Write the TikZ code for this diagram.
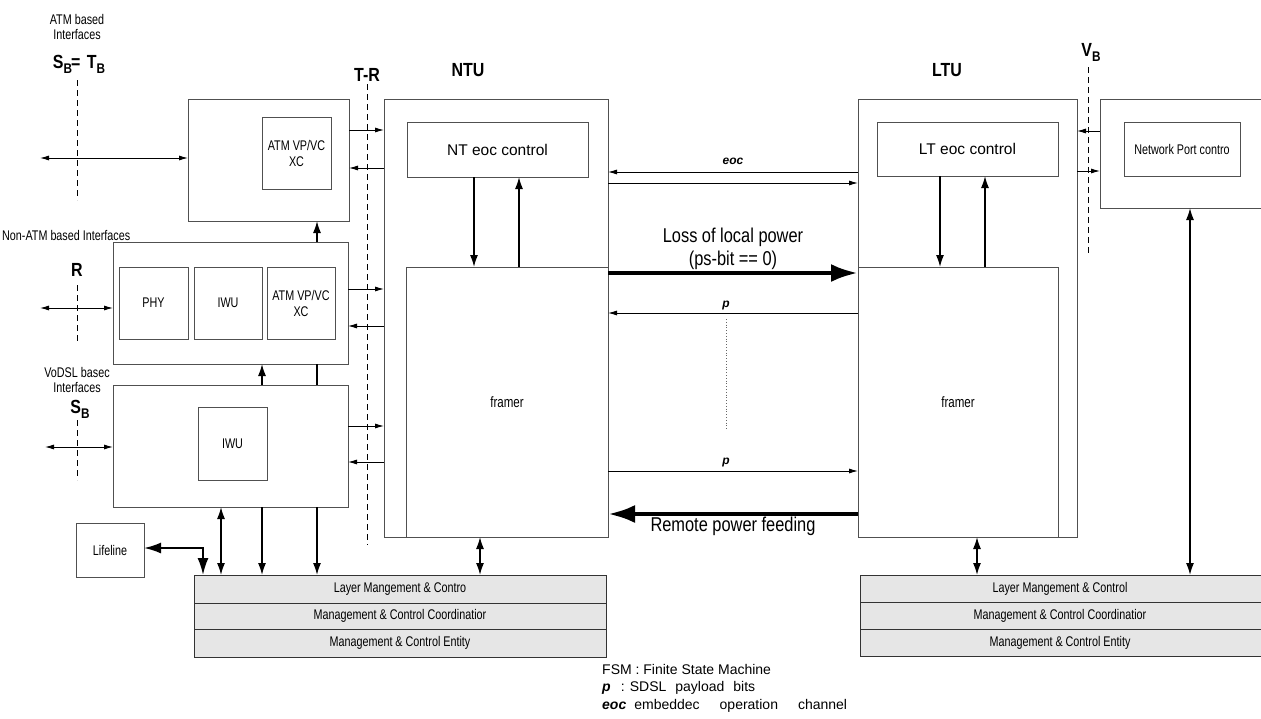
\documentclass[tikz,border=0pt]{standalone}
\usepackage{fontspec}
\setmainfont{Liberation Sans}
\newfontfamily\condfont[FakeStretch=0.77]{Liberation Sans}
\newfontfamily\condbold[FakeStretch=0.84]{Liberation Sans}
\newfontfamily\condbig[FakeStretch=0.82]{Liberation Sans}
\usepackage{xcolor}
\usetikzlibrary{arrows.meta, positioning}

\definecolor{linegray}{RGB}{80,80,80}
\definecolor{mgmtfill}{RGB}{230,230,230}
\newcommand{\lowB}{\raisebox{-5pt}{\fontsize{14}{14}\selectfont B}}

\begin{document}
\begin{tikzpicture}[x=1pt, y=-1pt]
    \tikzstyle{blk} = [rectangle, draw=linegray, line width=0.9pt, anchor=north west, inner sep=0pt, outer sep=0pt, align=center, font=\condfont\fontsize{14}{16}\selectfont]
    \tikzstyle{ctl} = [blk, font=\fontsize{15.5}{17}\selectfont]
    \tikzstyle{mgmt} = [blk, fill=mgmtfill, draw=black!80]
    \tikzstyle{txt} = [inner sep=0pt, align=center, font=\condfont\fontsize{14}{15}\selectfont]
    \tikzstyle{bigtxt} = [inner sep=0pt, align=center, font=\condbig\fontsize{20}{23}\selectfont]
    \tikzstyle{ref} = [inner sep=0pt, font=\condbold\bfseries\fontsize{19}{20}\selectfont]
    \tikzstyle{bits} = [inner sep=0pt, font=\bfseries\itshape\fontsize{12}{13}\selectfont]
    \tikzstyle{iface} = [draw=black, line width=0.8pt, dash pattern=on 6pt off 4pt]
    \tikzstyle{sig} = [->, line width=0.9pt, >={Latex[length=9pt, width=5pt]}]
    \tikzstyle{ctrl} = [->, line width=1.5pt, >={Latex[length=12pt, width=8pt]}]
    \tikzstyle{life} = [<->, line width=2pt, >={Latex[length=17pt, width=11pt]}]
    \tikzstyle{power} = [->, line width=4.5pt, >={Latex[length=27pt, width=18pt]}]

    \useasboundingbox (0,0) rectangle (1261,718);

    % Customer side interface blocks
    \node (atm) [blk, minimum width=161pt, minimum height=122pt] at (188,99) {};
    \node (atmxc) [blk, minimum width=69pt, minimum height=72pt] at (262,117) {ATM VP/VC\\XC};
    \node (nonatm) [blk, minimum width=235pt, minimum height=122pt] at (113,242) {};
    \node (phy) [blk, minimum width=69pt, minimum height=72pt] at (119,267) {PHY};
    \node (iwua) [blk, minimum width=68pt, minimum height=72pt, right=6pt of phy] {IWU};
    \node (atmxcb) [blk, minimum width=68pt, minimum height=72pt, right=5pt of iwua] {ATM VP/VC\\XC};
    \node (vodsl) [blk, minimum width=235pt, minimum height=122pt] at (113,385) {};
    \node (iwub) [blk, minimum width=69pt, minimum height=73pt] at (198,407) {IWU};
    \node (lifeline) [blk, minimum width=68pt, minimum height=54pt] at (76,523) {Lifeline};

    % Interface labels
    \node (atmlbl) [txt] at (77,27) {ATM based\\Interfaces};
    \node (sbtb) [ref] at (79,64) {S\lowB\kern-1pt= \kern2pt T\lowB};
    \node (nonatmlbl) [txt, anchor=west] at (2,235) {Non-ATM based Interfaces};
    \node (rlbl) [ref] at (77,270) {R};
    \node (vodsllbl) [txt] at (77,380) {VoDSL basec\\Interfaces};
    \node (sblbl) [ref] at (80,409) {S\lowB};
    \node (trlbl) [ref] at (367,75) {T-R};
    \node (ntulbl) [ref] at (468,70) {NTU};
    \node (ltulbl) [ref] at (947,70) {LTU};
    \node (vblbl) [ref] at (1091,52) {V\lowB};

    % Reference points
    \draw[iface] (77,80) -- (77,200);
    \draw[iface] (77,285) -- (77,343);
    \draw[iface] (77,420) -- (77,480);
    \draw[iface] (367,84) -- (367,545);
    \draw[iface] (1088,67) -- (1088,255);

    \coordinate (atmport) at (40,158);
    \coordinate (rport) at (40,308);
    \coordinate (sbport) at (45,447);
    \draw[sig, <->] (atmport) -- (atmport -| atm.west);
    \draw[sig, <->] (rport) -- (rport -| nonatm.west);
    \draw[sig, <->] (sbport) -- (sbport -| vodsl.west);

    % NTU
    \node (ntu) [blk, minimum width=224pt, minimum height=438pt] at (384,99) {};
    \node (nteoc) [ctl, minimum width=181pt, minimum height=55pt] at (407,122) {NT eoc control};
    \node (ntframer) [blk, font=\condfont\fontsize{15}{16}\selectfont, minimum width=202pt, minimum height=270pt] at (406,267) {framer};

    % LTU
    \node (ltu) [blk, minimum width=219pt, minimum height=438pt] at (858,99) {};
    \node (lteoc) [ctl, minimum width=181pt, minimum height=54pt] at (877,122) {LT eoc control};
    \node (ltframer) [blk, font=\condfont\fontsize{15}{16}\selectfont, minimum width=200pt, minimum height=270pt] at (858,267) {framer};

    % Network port
    \node (np) [blk, minimum width=190pt, minimum height=109pt] at (1100,99) {};
    \node (npc) [blk, minimum width=116pt, minimum height=54pt] at (1124,122) {Network Port contro};

    % Management stacks
    \node (lmc1) [mgmt, minimum width=412pt, minimum height=28pt] at (194,575) {Layer Mangement \& Contro};
    \node (lmc2) [mgmt, minimum width=412pt, minimum height=26pt, below=0pt of lmc1] {Management \& Control Coordinatior};
    \node (lmc3) [mgmt, minimum width=412pt, minimum height=28pt, below=0pt of lmc2] {Management \& Control Entity};
    \node (rmc1) [mgmt, minimum width=430pt, minimum height=27pt] at (860,575) {\hspace*{-30pt}Layer Mangement \& Control};
    \node (rmc2) [mgmt, minimum width=430pt, minimum height=27pt, below=0pt of rmc1] {\hspace*{-30pt}Management \& Control Coordinatior};
    \node (rmc3) [mgmt, minimum width=430pt, minimum height=27pt, below=0pt of rmc2] {\hspace*{-30pt}Management \& Control Entity};

    % Blocks to NTU
    \draw[sig] (atm.east |- 0,130) -- (ntu.west |- 0,130);
    \draw[sig, <-] (atm.east |- 0,168) -- (ntu.west |- 0,168);
    \draw[sig] (nonatm.east |- 0,289) -- (ntu.west |- 0,289);
    \draw[sig, <-] (nonatm.east |- 0,326) -- (ntu.west |- 0,326);
    \draw[sig] (vodsl.east |- 0,426) -- (ntu.west |- 0,426);
    \draw[sig, <-] (vodsl.east |- 0,462) -- (ntu.west |- 0,462);

    \draw[ctrl] (nonatm.north -| 317,0) -- (atm.south -| 317,0);
    \draw[ctrl] (vodsl.north -| 262,0) -- (nonatm.south -| 262,0);
    \draw[line width=1.5pt] (vodsl.north -| 317,0) -- (nonatm.south -| 317,0);

    % To management
    \draw[life] (lifeline.east |- 0,548) -| (lmc1.north -| 203,0);
    \draw[ctrl, <->] (vodsl.south -| 221,0) -- (lmc1.north -| 221,0);
    \draw[ctrl] (vodsl.south -| 262,0) -- (lmc1.north -| 262,0);
    \draw[ctrl] (vodsl.south -| 317,0) -- (lmc1.north -| 317,0);
    \draw[ctrl, <->] (ntframer.south -| 480,0) -- (lmc1.north -| 480,0);
    \draw[ctrl, <->] (ltframer.south -| 977,0) -- (rmc1.north -| 977,0);
    \draw[ctrl, <->] (np.south -| 1190,0) -- (rmc1.north -| 1190,0);

    % eoc control
    \draw[ctrl] (nteoc.south -| 474,0) -- (ntframer.north -| 474,0);
    \draw[ctrl, <-] (nteoc.south -| 519,0) -- (ntframer.north -| 519,0);
    \draw[ctrl] (lteoc.south -| 940,0) -- (ltframer.north -| 940,0);
    \draw[ctrl, <-] (lteoc.south -| 985,0) -- (ltframer.north -| 985,0);

    % Line side
    \draw[sig, <-] (ntu.east |- 0,172) -- node[above=7pt, bits] {eoc} (ltu.west |- 0,172);
    \draw[sig] (ntu.east |- 0,183) -- (ltu.west |- 0,183);
    \draw[power] (ntframer.east |- 0,273) -- node[above=1pt, bigtxt] {Loss of local power\\(ps-bit == 0)} (ltframer.west |- 0,273);
    \draw[sig, <-] (ntframer.east |- 0,313) -- node[above=3pt, xshift=-7pt, bits] (ptop) {p} (ltframer.west |- 0,313);
    \draw[sig] (ntframer.east |- 0,471) -- node[above=4pt, xshift=-7pt, bits] (pbot) {p} (ltframer.west |- 0,471);
    \draw[dotted, line width=0.8pt, black!60] ([yshift=-9pt]ptop.south) -- ([yshift=27pt]pbot.north);
    \draw[power, <-] (ntframer.east |- 0,514) -- node[below=1pt, bigtxt] {Remote power feeding} (ltframer.west |- 0,514);

    % Network port
    \draw[sig, <-] (ltu.east |- 0,131) -- (np.west |- 0,131);
    \draw[sig] (ltu.east |- 0,171) -- (np.west |- 0,171);

    % Legend
    \node (legend) [inner sep=0pt, anchor=north west, align=left, font=\fontsize{14}{17.5}\selectfont] at (602,664) {FSM : Finite State Machine\\
        \textbf{\textit{p}}\hspace{10pt}: SDSL\hspace{9pt}payload\hspace{9pt}bits\\
        \textbf{\textit{eoc}}\hspace{8pt}embeddec\hspace{20pt}operation\hspace{20pt}channel};
\end{tikzpicture}
\end{document}
